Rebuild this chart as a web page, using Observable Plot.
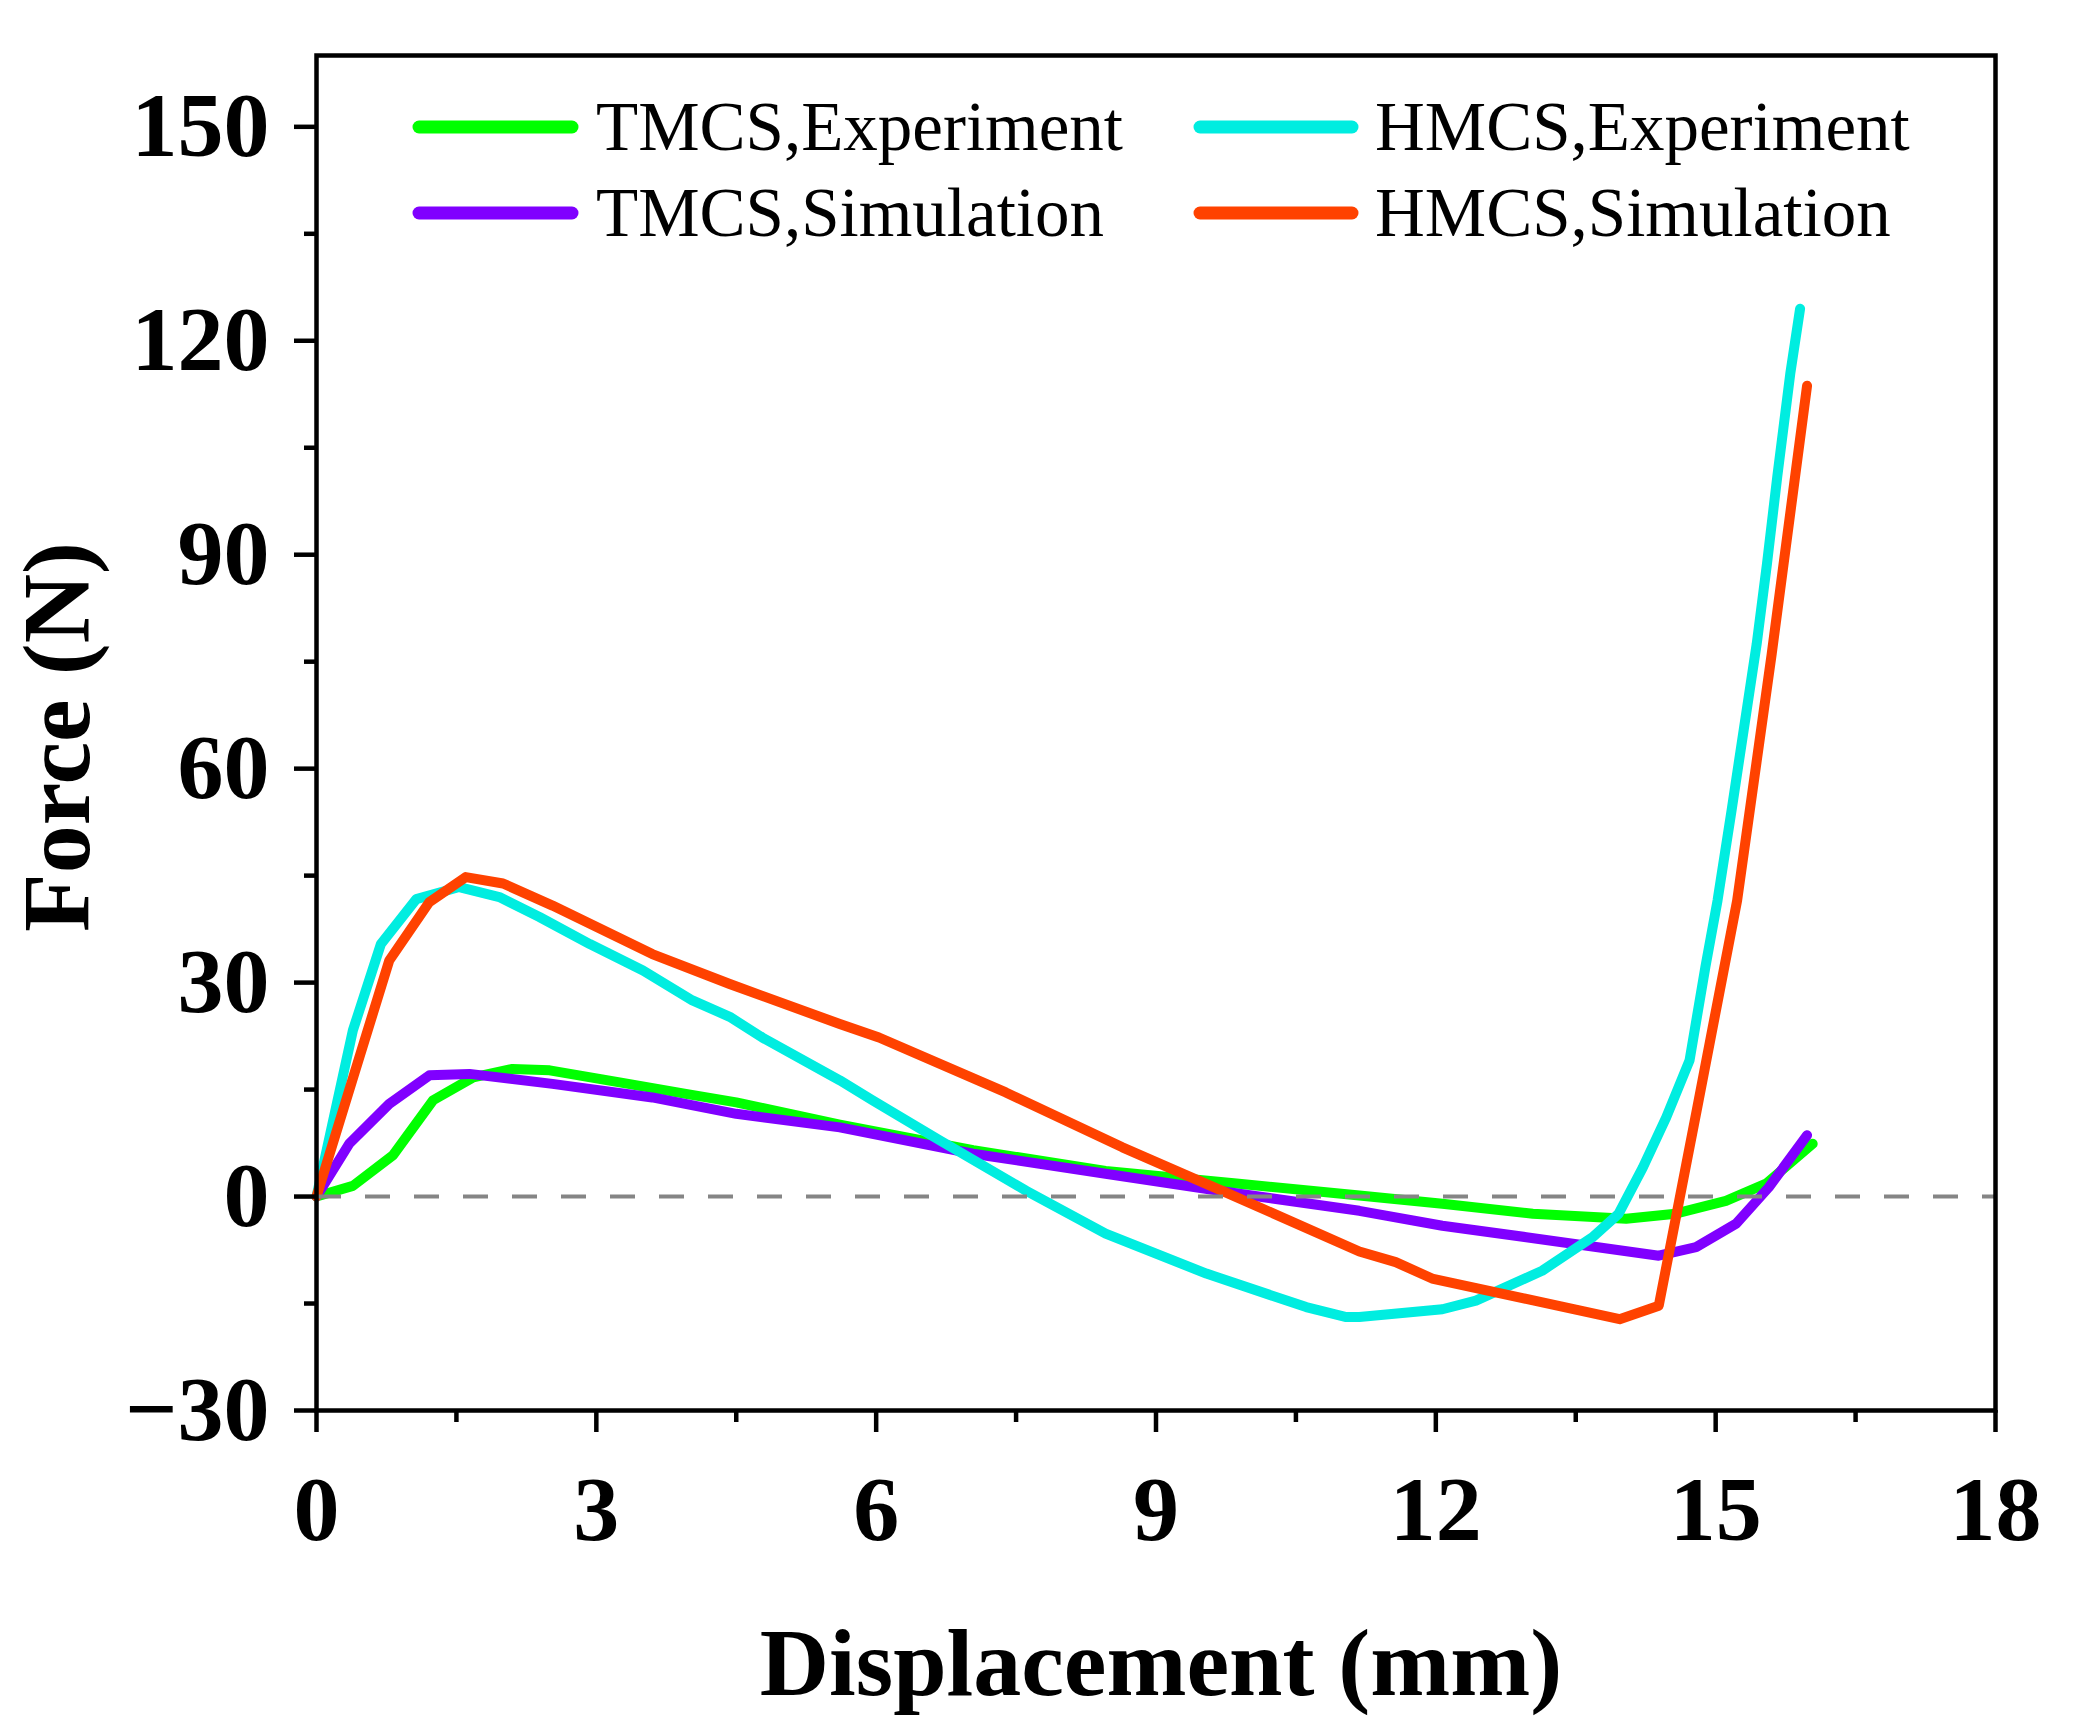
<!DOCTYPE html>
<html><head><meta charset="utf-8">
<script src="https://cdn.jsdelivr.net/npm/d3@7"></script>
<script src="https://cdn.jsdelivr.net/npm/@observablehq/plot@0.6"></script>
<style>
body{margin:0;background:#fff;}
#wrap{position:relative;width:2098px;height:1730px;}
#legend{position:absolute;left:0;top:0;pointer-events:none;}
</style></head><body><div id="wrap"></div>
<script>
// ---- data ----
const seriesNames = ["TMCS,Experiment", "TMCS,Simulation", "HMCS,Experiment", "HMCS,Simulation"];
const seriesColors = ["#00FF00", "#8000FF", "#00EDE0", "#FF4200"];

const tmcsExpX = [0, 0.39, 0.82, 1.25, 1.68, 2.10, 2.50, 3.25, 3.96, 4.5, 5.61, 7.04, 8.46, 9.89, 11.18, 12.07, 13.04, 14.04, 14.57, 15.11, 15.54, 16.04];
const tmcsExpY = [0, 1.5, 5.8, 13.5, 16.7, 17.9, 17.7, 16.0, 14.4, 13.2, 10.1, 6.5, 3.6, 1.8, 0.15, -1.0, -2.4, -3.1, -2.4, -0.6, 1.8, 7.4];

const tmcsSimX = [0, 0.35, 0.78, 1.21, 1.64, 2.53, 3.60, 4.5, 5.61, 7.04, 8.46, 9.89, 11.18, 12.07, 12.97, 14.39, 14.79, 15.22, 15.57, 15.98];
const tmcsSimY = [0, 7.4, 13.0, 17.0, 17.2, 15.8, 13.9, 11.6, 9.7, 6.0, 3.2, 0.4, -2.0, -4.1, -5.7, -8.3, -7.1, -3.8, 1.3, 8.6];

const hmcsExpX = [0, 0.39, 0.69, 1.07, 1.53, 1.96, 2.39, 2.93, 3.50, 4.03, 4.43, 4.78, 5.61, 5.96, 6.68, 7.61, 8.46, 9.54, 10.61, 11.04, 11.18, 12.07, 12.43, 13.14, 13.68, 13.96, 14.22, 14.47, 14.72, 14.89, 15.02, 15.17, 15.30, 15.44, 15.55, 15.66, 15.80, 15.905];
const hmcsExpY = [0, 23.3, 35.4, 41.7, 43.4, 42.0, 39.2, 35.4, 31.7, 27.5, 25.2, 22.3, 16.3, 13.5, 7.9, 0.8, -5.2, -10.8, -15.5, -16.9, -16.9, -15.8, -14.6, -10.4, -5.7, -2.4, 4.1, 11.1, 19.1, 32.2, 41.5, 54.1, 65.4, 77.5, 88.7, 100.9, 115.4, 124.5];

const hmcsSimX = [0, 0.4, 0.78, 1.21, 1.60, 2.0, 2.53, 3.60, 4.43, 5.61, 6.03, 7.39, 8.64, 9.71, 11.18, 11.57, 11.96, 13.97, 14.39, 14.8, 15.23, 15.6, 15.98];
const hmcsSimY = [0, 17, 33.1, 41.3, 44.8, 43.9, 40.8, 34.0, 29.8, 24.2, 22.3, 14.6, 6.9, 0.8, -7.7, -9.2, -11.5, -17.2, -15.3, 12.3, 41.5, 76, 113.7];

const xTicks = [0, 3, 6, 9, 12, 15, 18];
const xMinor = [1.5, 4.5, 7.5, 10.5, 13.5, 16.5];
const yTicks = [-30, 0, 30, 60, 90, 120, 150];
const yMinor = [-15, 15, 45, 75, 105, 135];

const xLabel = "Displacement (mm)";
const yLabel = "Force (N)";

// ---- build ----
const FONT = '"Liberation Serif", "Times New Roman", Times, serif';
const seriesXY = [[tmcsExpX, tmcsExpY], [tmcsSimX, tmcsSimY], [hmcsExpX, hmcsExpY], [hmcsSimX, hmcsSimY]];
const lineMarks = seriesXY.map(([xs, ys], i) =>
  Plot.line(xs.map((x, j) => ({x, y: ys[j]})), {x: "x", y: "y", stroke: seriesColors[i], strokeWidth: 10, strokeLinecap: "round", strokeLinejoin: "round"})
);
const fmt = d3.format("d");
const AX = 4.5;

const chart = Plot.plot({
  width: 2098, height: 1730,
  marginLeft: 316, marginRight: 103, marginTop: 55, marginBottom: 320,
  x: {domain: [0, 18]},
  y: {domain: [-30, 160]},
  style: {fontFamily: FONT, background: "white", color: "black"},
  marks: [
    ...lineMarks,
    Plot.ruleY([0], {stroke: "#858585", strokeWidth: 4, strokeDasharray: "25,24"}),
    Plot.axisX(xMinor, {tickSize: 12, strokeWidth: AX, tickFormat: () => "", label: null}),
    Plot.axisY(yMinor, {tickSize: 12, strokeWidth: AX, tickFormat: () => "", label: null}),
    Plot.axisX(xTicks, {tickSize: 22, tickPadding: 42, strokeWidth: AX, tickFormat: fmt, label: null, fontSize: 92, fontWeight: "bold", fontFamily: FONT}),
    Plot.axisY(yTicks, {tickSize: 22, tickPadding: 25, strokeWidth: AX, tickFormat: fmt, label: null, fontSize: 92, fontWeight: "bold", fontFamily: FONT}),
    Plot.frame({stroke: "black", strokeWidth: AX}),
    Plot.text([xLabel], {text: d => d, frameAnchor: "bottom", textAnchor: "middle", dx: 5, dy: 254, lineAnchor: "middle", fontSize: 96, fontWeight: "bold", fontFamily: FONT, fill: "black"}),
    Plot.text([yLabel], {text: d => d, frameAnchor: "left", textAnchor: "middle", dx: -258, dy: 4, rotate: -90, lineAnchor: "middle", fontSize: 96, fontWeight: "bold", fontFamily: FONT, fill: "black"})
  ]
});
const wrap = document.getElementById("wrap");
wrap.appendChild(chart);

// ---- legend (inside frame, top) ----
const leg = d3.select(wrap).append("svg").attr("id", "legend").attr("width", 2098).attr("height", 400);
const legSwatch = [[419, 572], [1200, 1352]];
const legTextX = [596, 1375];
const legRows = [127, 213];
const legOrder = [[0, 0, 0], [2, 1, 0], [1, 0, 1], [3, 1, 1]]; // [series, col, row]
legOrder.forEach(([s, c, r]) => {
  const y0 = legRows[r];
  leg.append("line").attr("x1", legSwatch[c][0]).attr("x2", legSwatch[c][1]).attr("y1", y0).attr("y2", y0)
    .attr("stroke", seriesColors[s]).attr("stroke-width", 13).attr("stroke-linecap", "round");
  leg.append("text").attr("x", legTextX[c]).attr("y", y0 + 23)
    .attr("font-family", FONT).attr("font-size", 69).attr("fill", "black").text(seriesNames[s]);
});
</script></body></html>
